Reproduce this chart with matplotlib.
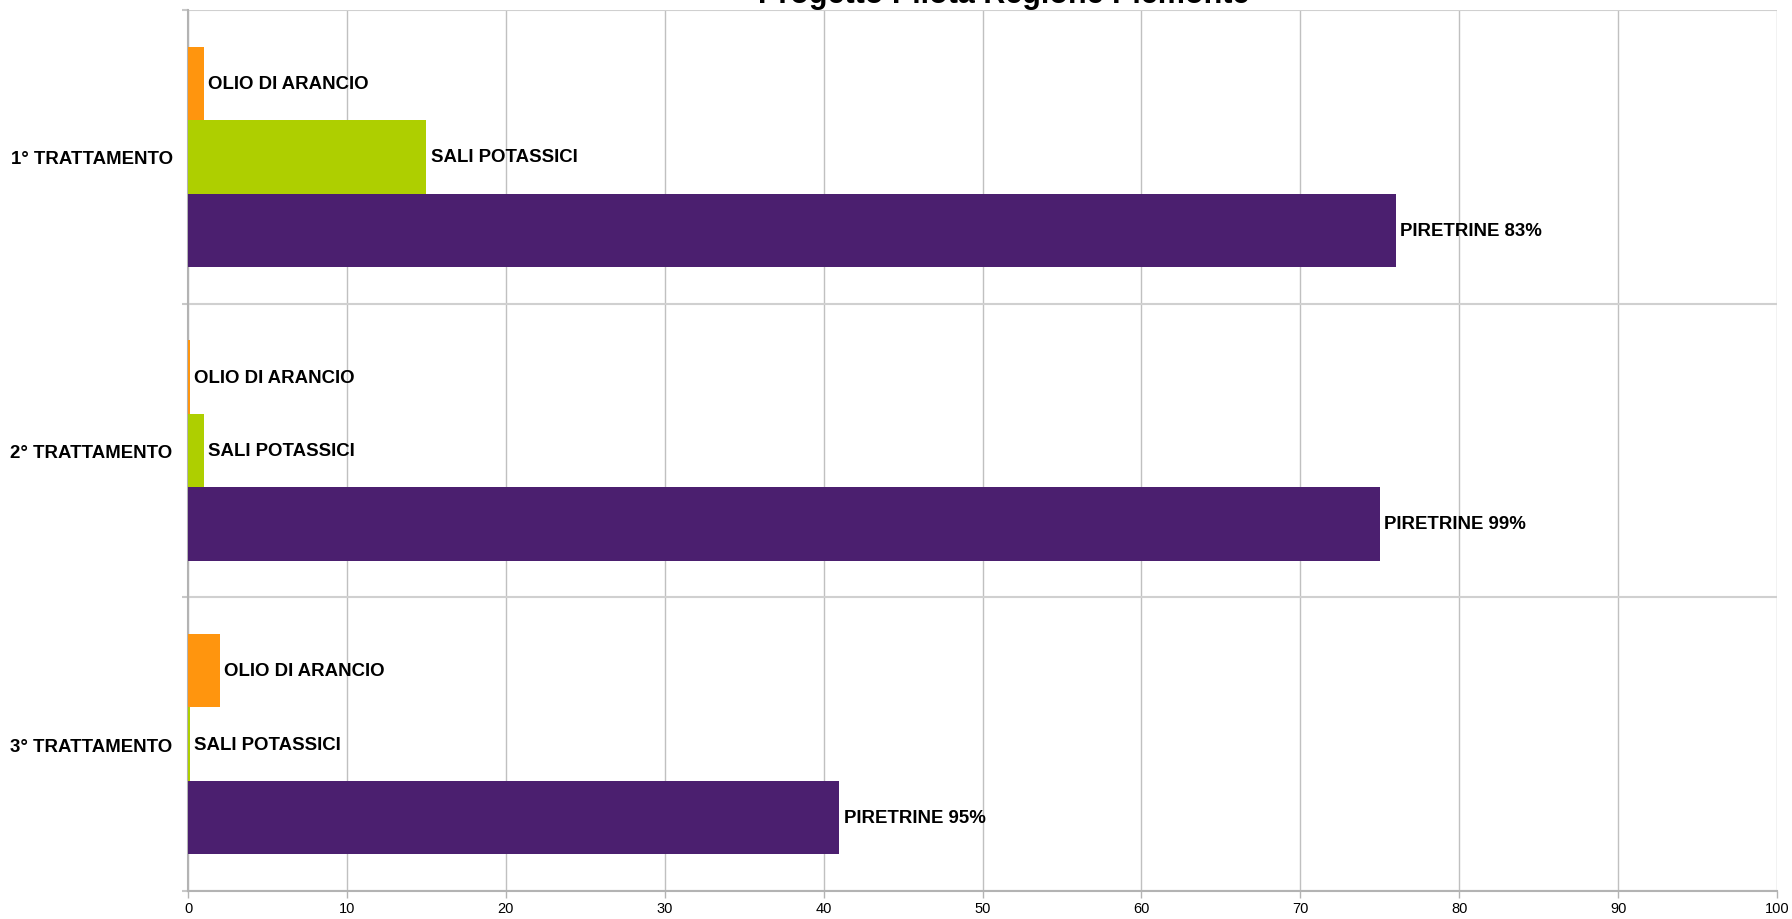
import numpy as np
import matplotlib
matplotlib.use('Agg')
import matplotlib.pyplot as plt

plt.rcParams['font.family'] = ['Liberation Sans', 'DejaVu Sans']

# data
categories = ['1° TRATTAMENTO', '2° TRATTAMENTO', '3° TRATTAMENTO']
olio = [1, 0.1, 2]          # OLIO DI ARANCIO
sali = [15, 1, 0.1]         # SALI POTASSICI
piretrine = [76, 75, 41]    # PIRETRINE
olio_labels = ['OLIO DI ARANCIO'] * 3
sali_labels = ['SALI POTASSICI'] * 3
piretrine_labels = ['PIRETRINE 83%', 'PIRETRINE 99%', 'PIRETRINE 95%']
xticks = [0, 10, 20, 30, 40, 50, 60, 70, 80, 90, 100]

fig = plt.figure(figsize=(17.92, 9.2), dpi=100)
ax = fig.add_axes([188/1792, 28/920, (1777-188)/1792, (892-11)/920])

y = np.arange(len(categories))
h = 0.25
series = [
    (olio, olio_labels, '#ff950e', -h),
    (sali, sali_labels, '#aecf00', 0),
    (piretrine, piretrine_labels, '#4b1f6f', h),
]
for vals, labs, col, off in series:
    bars = ax.barh(y + off, vals, height=h, color=col, linewidth=0, zorder=3)
    for b, v, lab in zip(bars, vals, labs):
        ax.annotate(lab, (v, b.get_y() + b.get_height()/2), xytext=(3, 0),
                    textcoords='offset points', va='center', ha='left',
                    fontsize=13.4, fontweight='bold', color='black', zorder=4)

ax.set_xlim(0, 100)
ax.set_ylim(2.5, -0.5)
ax.set_xticks(xticks)
ax.set_xticklabels([str(t) for t in xticks], fontsize=10.5)
ax.set_yticks(y)
ax.set_yticklabels(categories, fontsize=13.4, fontweight='bold')
ax.set_yticks([-0.5, 0.5, 1.5, 2.5], minor=True)
ax.tick_params(axis='y', which='major', length=0, pad=11)
ax.tick_params(axis='y', which='minor', length=4.5, width=1.5, color='#c8c8c8')
ax.tick_params(axis='x', length=5, width=1, color='#b3b3b3', pad=2)

ax.grid(axis='x', which='major', color='#c0c0c0', linewidth=1, zorder=0)
ax.grid(axis='y', which='minor', color='#d0d0d0', linewidth=1.5, zorder=0)
ax.set_axisbelow(True)

for s in ['top', 'right']:
    ax.spines[s].set_visible(False)
for s in ['left', 'bottom']:
    ax.spines[s].set_color('#b3b3b3')
    ax.spines[s].set_linewidth(1.5)

# title is partly above the top edge, as in the original
fig.text(1004/1792, 1 - 3/920, 'Progetto Pilota Regione Piemonte', ha='center',
         va='baseline', fontsize=22, fontweight='bold')

fig.savefig('out.png', dpi=100)
